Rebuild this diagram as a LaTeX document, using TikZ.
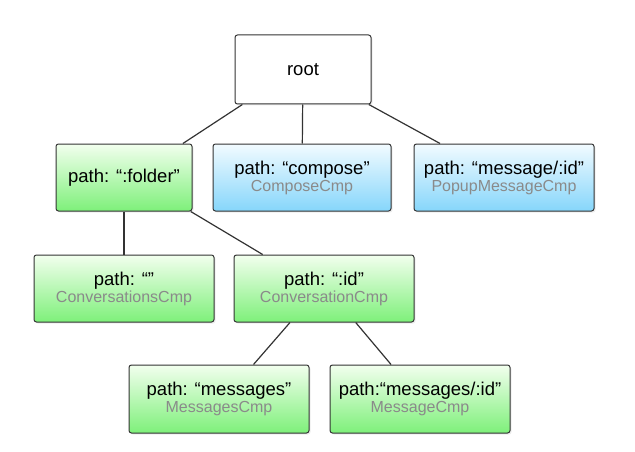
\documentclass[tikz,border=0pt]{standalone}
\usepackage{fontspec}
\setmainfont{Liberation Sans}
\usetikzlibrary{positioning, shadows}
\definecolor{edgegray}{HTML}{333333}
\definecolor{subgray}{HTML}{8A8A8A}
\definecolor{greentop}{HTML}{F2FFEE}
\definecolor{greenbot}{HTML}{7EF07A}
\definecolor{bluetop}{HTML}{F2FBFF}
\definecolor{bluebot}{HTML}{86D6FB}
\tikzset{
    routebox/.style={
        rectangle,
        rounded corners=2.5pt,
        draw=edgegray,
        line width=1pt,
        minimum width=180pt,
        minimum height=67pt,
        align=center,
        inner sep=2pt,
        font=\fontsize{18.5}{19}\selectfont,
        drop shadow={shadow xshift=1.5pt, shadow yshift=-1.5pt, opacity=0.15}
    },
    rootbox/.style={routebox, fill=white, minimum width=136pt, minimum height=69pt},
    greenbox/.style={routebox, top color=greentop, bottom color=greenbot},
    bluebox/.style={routebox, top color=bluetop, bottom color=bluebot},
    link/.style={draw=edgegray, line width=1.2pt}
}
\newcommand{\cmpname}[1]{{\fontsize{16}{18}\selectfont\color{subgray}#1}}

\begin{document}
\begin{tikzpicture}[x=1pt, y=1pt]
    \useasboundingbox (0,0) rectangle (635,-452);

    % top level
    \node (root) [rootbox] at (303,-69.5) {root};

    % second row
    \node (compose) [bluebox, minimum width=178pt, below=39pt of root, xshift=-1pt] {path: “compose”\\[-2pt]\cmpname{ComposeCmp}};
    \node (folder) [greenbox, minimum width=136pt, left=20pt of compose] {path: “:folder”};
    \node (popup) [bluebox, right=22pt of compose] {path: “message/:id”\\[-2pt]\cmpname{PopupMessageCmp}};

    % third row
    \node (conversations) [greenbox, below=43pt of folder] {path: “”\\[-2pt]\cmpname{ConversationsCmp}};
    \node (conversation) [greenbox, right=19pt of conversations] {path: “:id”\\[-2pt]\cmpname{ConversationCmp}};

    % fourth row
    \node (messages) [greenbox, minimum height=68pt, below=42pt of conversation, xshift=-105pt] {path: “messages”\\[-2pt]\cmpname{MessagesCmp}};
    \node (message) [greenbox, minimum height=68pt, right=20pt of messages] {path:“messages/:id”\\[-2pt]\cmpname{MessageCmp}};

    % links
    \draw [link] (root.210) -- (folder.30);
    \draw [link] (root) -- (compose);
    \draw [link] (root.332) -- (popup.152);
    \draw [link] (folder) -- (conversations);
    \draw [link] (folder.333) -- (conversation.151);
    \draw [link] (conversation.225) -- (messages.45);
    \draw [link] (conversation.313) -- (message.130);
\end{tikzpicture}
\end{document}
